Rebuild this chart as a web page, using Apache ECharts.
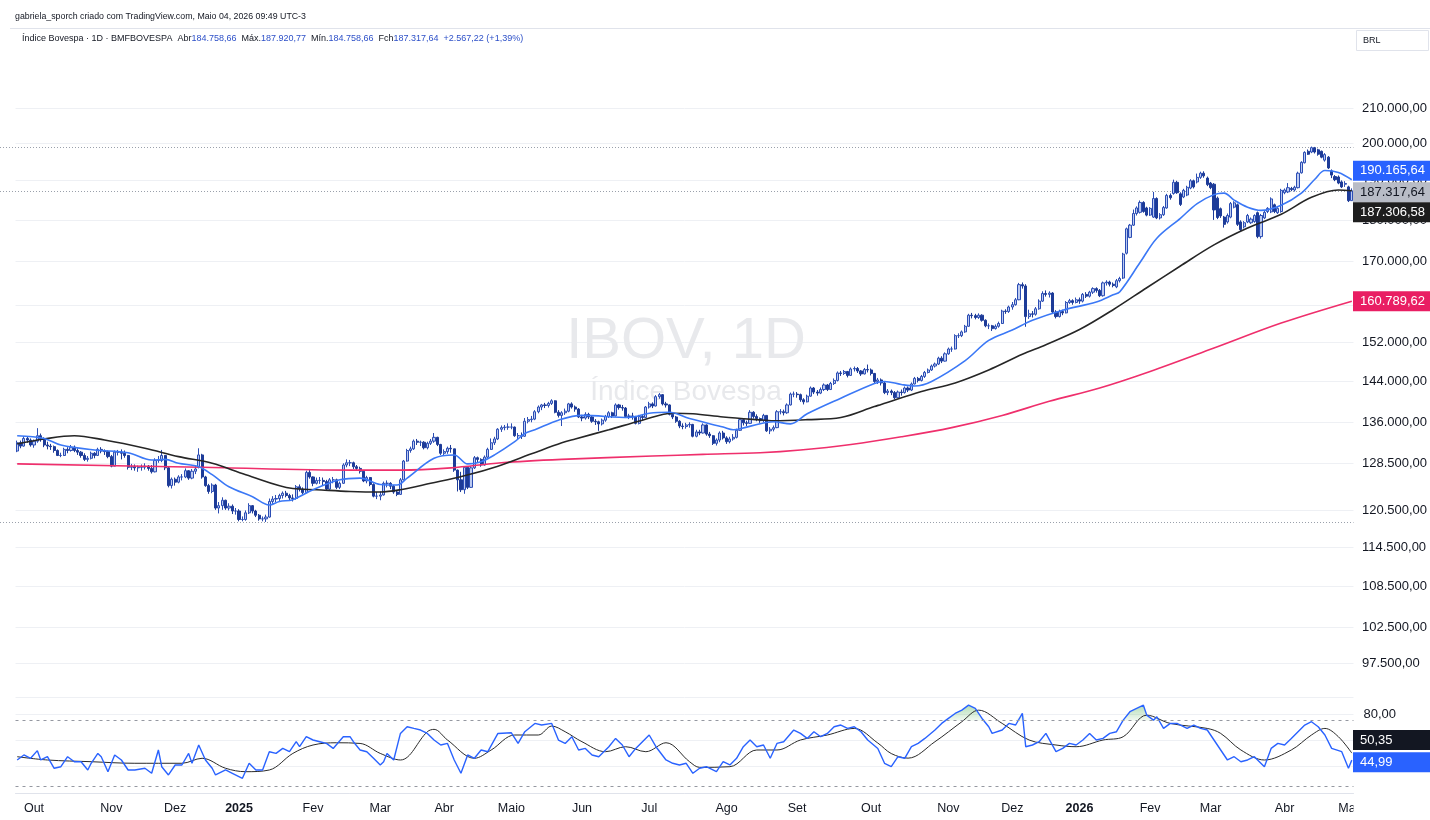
<!DOCTYPE html>
<html><head><meta charset="utf-8">
<script src="https://cdn.jsdelivr.net/npm/echarts@6/dist/echarts.min.js"></script>
<style>html,body{margin:0;padding:0;background:#fff}#c{width:1430px;height:820px}</style>
</head><body><div id="c"></div>
<script>
// ---------- DATA (prices in thousands of points) ----------
const monthLabels = ['Set','Out','Nov','Dez','2025','Fev','Mar','Abr','Maio','Jun','Jul','Ago','Set','Out','Nov','Dez','2026','Fev','Mar','Abr','Maio'];
const monthBars   = [5,23,19,19,22,20,19,20,21,20,23,21,22,23,19,20,21,18,22,20,1];

// [open, close, low, high]
const candles = [
[130.7,132.2,130.5,132.6],[132.2,131.6,131.2,132.6],[131.6,133.0,131.5,133.4],[133.0,132.7,132.2,133.4],[132.7,131.8,131.5,133.0],
[131.8,132.5,131.3,132.8],[132.5,133.5,132.2,134.9],[133.5,133.0,132.4,133.9],[133.0,131.8,131.4,133.2],[131.8,131.6,131.0,132.4],
[131.6,131.5,130.9,132.0],[131.5,130.8,130.4,131.7],[130.8,129.9,129.8,131.0],[129.9,129.9,129.6,130.4],[129.9,131.0,129.8,131.3],
[131.0,130.8,130.3,131.4],[130.8,131.4,130.6,131.8],[131.4,130.8,130.5,131.7],[130.8,130.5,130.0,131.2],[130.5,129.9,129.5,130.7],
[129.9,129.2,128.9,130.3],[129.2,129.4,128.8,129.8],[129.4,130.3,129.2,130.6],[130.3,129.9,129.4,130.5],[129.9,131.0,129.8,131.3],
[131.0,130.7,130.3,131.4],[130.7,130.6,130.0,131.0],[130.6,129.7,129.4,130.8],
[129.7,128.0,127.8,130.0],[128.0,130.5,128.0,130.8],[130.5,130.5,129.9,130.9],[130.5,130.3,129.2,131.0],[130.3,129.9,129.5,130.8],
[129.9,127.8,127.4,130.0],[127.8,127.9,127.3,128.4],[127.9,127.7,127.2,128.3],[127.7,127.8,127.0,128.1],[127.8,127.8,127.2,128.3],
[127.8,128.0,127.4,128.5],[128.0,127.6,127.2,128.2],[127.6,127.0,126.7,128.2],[127.0,129.0,126.9,129.4],[129.0,129.0,128.6,129.8],
[129.0,129.9,128.7,130.9],[129.9,127.7,127.3,130.0],[127.7,124.6,124.3,128.0],[124.6,125.7,124.1,126.0],
[125.7,125.2,124.6,126.0],[125.2,126.1,125.0,126.4],[126.1,126.1,125.5,126.6],[126.1,127.2,125.9,127.6],[127.2,125.9,125.6,127.3],
[125.9,127.1,125.7,127.5],[127.1,127.5,126.6,128.0],[127.8,130.0,127.6,131.2],[130.0,126.1,125.8,130.2],[126.1,124.6,124.4,126.3],
[124.6,123.6,123.2,124.9],[123.6,124.7,123.3,125.0],[124.7,120.8,120.5,124.9],[120.8,121.2,119.9,121.8],[121.2,122.1,120.5,122.6],
[122.1,120.8,120.5,122.2],[120.8,121.1,120.4,121.6],[121.1,120.3,119.8,121.4],[120.3,120.3,119.7,120.8],
[120.3,118.9,118.6,120.6],[118.9,118.9,118.6,119.4],[118.9,120.0,118.7,120.4],[120.0,121.2,119.8,121.6],[121.2,120.3,119.9,121.3],
[120.3,119.6,119.3,120.5],[119.6,119.0,118.7,119.8],[119.0,119.0,118.6,119.4],[119.0,119.3,118.5,119.7],[119.3,121.9,119.2,122.4],
[121.9,122.3,121.5,122.8],[122.3,122.4,121.8,123.0],[122.4,122.9,122.0,123.2],[122.9,123.3,122.4,123.6],[123.3,122.9,122.6,123.7],
[122.9,122.5,122.0,123.2],[122.5,122.4,121.9,123.1],[122.4,124.4,122.2,124.7],[124.4,124.0,123.6,124.8],[124.0,123.4,123.1,124.3],
[123.4,126.9,123.3,127.2],[126.9,126.1,125.8,127.5],
[126.1,125.0,124.5,126.2],[125.0,125.5,124.8,126.0],[125.5,125.5,124.9,126.1],[125.5,125.3,124.7,126.0],[125.3,124.0,123.8,125.6],
[124.0,125.6,123.9,125.9],[125.6,125.6,125.0,126.1],[125.6,124.3,124.0,125.8],[124.3,125.0,124.0,125.3],[125.0,128.2,124.9,128.5],
[128.2,128.6,127.8,129.2],[128.6,128.6,128.0,129.1],[128.6,127.9,127.5,128.8],[127.9,127.6,127.2,128.2],[127.6,127.1,126.7,127.9],
[127.1,125.4,125.2,127.2],[125.4,126.0,125.0,126.3],[126.0,124.8,124.5,126.1],[124.8,122.8,122.6,125.0],[122.8,122.8,122.3,123.5],
[122.8,123.0,122.1,123.6],[123.0,125.0,122.9,125.3],[125.0,125.0,124.3,125.5],[125.0,124.5,124.0,125.2],[124.5,123.5,123.2,124.7],
[123.5,123.1,122.8,123.8],[123.1,125.6,123.0,125.9],[125.6,128.9,125.5,129.1],[128.9,130.8,128.8,131.1],[130.8,131.1,130.4,131.5],
[131.1,132.5,130.9,132.8],[132.5,132.3,131.8,132.9],[132.3,132.3,131.6,132.6],[132.3,131.3,131.0,132.5],[131.3,132.1,131.0,132.4],
[132.1,132.5,131.8,132.9],[132.5,133.2,132.2,134.0],[133.2,131.9,131.6,133.3],[131.9,130.3,130.0,132.0],
[130.3,130.6,129.8,131.0],[130.6,131.2,130.2,131.5],[131.2,131.1,130.4,131.8],[131.1,127.3,127.0,131.1],[127.3,125.6,123.6,127.4],
[125.6,123.9,123.5,127.0],[123.9,127.8,123.2,128.0],[127.8,124.3,124.0,127.8],[124.3,127.7,124.2,128.0],[127.7,129.5,127.5,129.8],
[129.5,129.2,128.6,129.7],[129.2,128.2,127.9,129.4],[128.2,129.6,128.1,129.9],[129.6,131.0,129.4,131.3],[131.0,132.2,130.9,133.0],
[132.2,132.9,131.8,133.3],[132.9,134.7,132.7,134.9],[134.7,135.0,134.2,135.4],[135.0,135.1,134.5,135.5],[135.1,135.1,134.6,135.8],
[135.1,135.1,134.7,135.8],[135.1,133.5,133.3,135.2],[133.5,133.5,132.9,134.0],[133.5,133.4,132.9,134.1],[133.4,136.2,133.3,136.8],
[136.2,136.5,135.8,137.0],[136.5,136.6,136.0,137.2],[136.6,138.0,136.4,138.3],[138.0,138.9,137.7,139.2],[138.9,139.3,138.3,139.5],
[139.3,139.2,138.7,139.7],[139.2,139.6,138.8,139.9],[139.6,140.1,139.3,140.4],[140.1,137.9,137.7,140.2],[137.9,137.3,136.9,138.3],
[137.3,137.8,135.3,138.1],[137.8,138.1,137.4,138.6],[138.1,139.5,137.9,139.7],[139.5,138.9,138.6,139.8],[138.9,138.5,138.0,139.2],
[138.5,137.0,136.8,138.7],
[137.0,136.8,136.2,137.4],[136.8,137.5,136.5,137.9],[137.5,137.0,136.6,137.8],[137.0,136.2,135.9,137.3],[136.2,136.1,135.5,136.6],
[136.1,135.7,134.4,136.3],[135.7,136.4,135.4,136.7],[136.4,137.1,136.1,137.4],[137.1,137.8,136.8,138.1],[137.8,137.2,136.8,138.0],
[137.2,139.3,137.1,139.6],[139.3,138.8,138.4,139.5],[138.8,138.7,138.2,139.3],[138.7,137.1,136.8,138.9],[137.1,137.2,136.6,137.6],
[137.2,137.1,136.5,137.8],[137.1,135.8,135.6,137.2],[135.8,137.1,135.6,137.4],[137.1,136.9,136.4,137.4],[136.9,138.9,136.8,139.1],
[138.9,139.5,138.6,139.9],[139.5,139.1,138.7,139.8],[139.1,140.9,139.0,141.2],[140.9,141.3,140.5,141.6],[141.3,139.5,139.2,141.4],
[139.5,139.3,138.8,139.9],[139.3,137.5,137.3,139.4],[137.5,137.0,136.6,137.8],[137.0,136.2,135.9,137.2],[136.2,135.3,134.9,136.4],
[135.3,135.2,134.7,135.8],[135.2,135.5,134.8,135.9],[135.5,135.6,135.0,136.0],[135.6,133.4,133.2,135.7],[133.4,134.2,133.2,134.6],
[134.2,134.0,133.6,134.6],[134.0,135.5,133.9,135.8],[135.5,133.8,133.5,135.6],[133.8,133.5,133.1,134.2],[133.5,132.1,131.8,133.6],
[132.1,132.7,131.7,133.0],[132.7,134.0,132.3,134.3],[134.0,133.1,132.8,134.4],
[133.1,132.4,132.0,133.4],[132.4,132.9,132.1,133.3],[132.9,133.2,132.6,133.8],[133.2,134.5,133.0,134.8],[134.5,136.5,134.4,136.8],
[136.5,135.9,135.4,136.7],[135.9,135.8,135.3,136.3],[135.8,137.9,135.7,138.3],[137.9,137.1,136.7,138.1],[137.1,136.7,136.2,137.5],
[136.7,136.3,135.9,136.9],[136.3,137.3,136.0,137.6],[137.3,134.4,134.2,137.3],[134.4,134.7,133.8,135.1],[134.7,135.0,134.3,135.4],
[135.0,138.0,134.9,138.3],[138.0,138.0,137.5,138.5],[138.0,137.8,137.3,138.4],[137.8,139.3,137.6,139.6],[139.3,141.4,139.2,141.7],
[141.4,141.4,140.8,141.9],
[141.4,141.3,140.7,141.8],[141.3,140.3,139.9,141.5],[140.3,139.9,139.4,140.6],[139.9,141.0,139.8,141.3],[141.0,142.6,140.9,142.9],
[142.6,141.8,141.4,142.8],[141.8,141.6,141.1,142.2],[141.6,142.3,141.4,142.7],[142.3,143.2,142.0,143.5],[143.2,142.3,142.0,143.4],
[142.3,143.5,142.2,143.8],[143.5,144.1,143.2,144.5],[144.1,145.6,143.9,145.9],[145.6,145.5,145.0,146.0],[145.5,145.9,145.2,146.2],
[145.9,145.1,144.7,146.0],[145.1,146.4,145.0,146.7],[146.4,146.5,145.9,146.9],[146.5,146.0,145.6,146.8],[146.0,145.4,145.0,146.2],
[145.4,146.3,145.3,146.6],[146.3,146.2,145.7,147.3],
[146.2,145.5,145.1,146.5],[145.5,143.9,143.6,145.6],[143.9,144.2,143.4,144.6],[144.2,143.6,143.1,144.5],[143.6,141.7,141.4,143.8],
[141.7,142.0,141.2,142.4],[142.0,141.7,141.2,142.3],[141.7,140.7,140.4,142.0],[140.7,141.8,140.6,142.1],[141.8,141.7,141.1,142.3],
[141.7,142.6,141.5,142.9],[142.6,142.2,141.8,142.9],[142.2,143.4,142.0,143.7],[143.4,144.5,143.3,144.8],[144.5,144.1,143.7,144.8],
[144.1,144.9,143.9,145.2],[144.9,145.7,144.6,146.0],[145.7,146.2,145.5,146.5],[146.2,147.0,146.0,147.3],[147.0,147.4,146.7,147.7],
[147.4,148.6,147.2,148.9],[148.6,148.0,147.6,149.0],[148.0,149.5,147.9,149.8],
[149.5,150.5,149.3,150.8],[150.5,150.5,149.9,151.0],[150.5,153.3,150.4,153.6],[153.3,153.3,152.8,153.8],[153.3,154.1,153.0,154.4],
[154.1,155.3,153.9,155.6],[155.3,157.7,155.2,158.0],[157.7,157.6,157.0,158.2],[157.6,157.2,156.8,158.0],[157.2,157.7,156.9,158.1],
[157.7,156.6,156.3,157.9],[156.6,155.4,155.1,156.8],[155.4,155.4,154.7,155.9],[155.4,154.8,154.3,155.6],[154.8,155.3,154.6,155.7],
[155.3,155.9,155.0,156.3],[155.9,158.6,155.8,158.9],[158.6,158.5,158.0,159.0],[158.5,159.5,158.2,159.8],
[159.5,160.0,158.9,160.6],[160.0,161.1,159.8,161.5],[161.1,164.5,161.0,164.9],[164.5,164.2,163.6,165.0],[164.2,157.4,155.2,164.6],
[157.4,158.0,156.9,158.9],[158.0,157.9,157.2,158.6],[157.9,159.1,157.6,159.5],[159.1,160.8,158.9,161.2],[160.8,162.5,160.6,163.0],
[162.5,162.3,161.8,163.2],[162.3,162.6,161.6,163.0],[162.6,158.4,158.1,162.8],[158.4,157.4,157.0,158.8],[157.4,158.5,157.2,158.9],
[158.5,158.2,157.7,158.9],[158.2,160.5,158.1,160.8],[160.5,160.9,160.2,161.3],[160.9,160.5,160.0,161.2],[160.5,161.1,160.3,161.6],
[161.1,160.8,160.2,161.6],[160.8,162.3,160.5,162.6],[162.3,161.9,161.5,162.8],[161.9,162.8,161.6,163.1],[162.8,163.6,162.4,163.9],
[163.6,163.2,162.7,163.9],[163.2,162.0,161.7,163.5],[162.0,164.9,161.8,165.2],[164.9,165.1,164.3,165.5],[165.1,164.6,164.1,165.4],
[164.6,164.3,163.9,165.0],[164.0,165.4,163.7,165.8],[165.4,165.9,165.0,166.3],[166.0,171.6,165.8,171.9],[171.8,177.7,171.5,178.0],
[175.6,178.6,175.4,178.9],[178.6,181.5,178.4,182.5],[181.5,182.9,181.0,183.3],[181.8,184.3,181.5,184.8],[184.3,182.0,181.7,184.6],
[182.9,181.1,180.8,183.2],
[181.1,182.8,180.9,183.1],[180.6,185.3,180.4,187.0],[185.3,180.4,180.1,185.6],[180.4,181.2,180.0,181.6],[181.2,183.0,180.9,183.4],
[182.9,186.1,182.7,186.5],[186.1,185.5,185.0,186.6],[186.6,189.5,186.3,190.2],[189.5,186.8,186.5,189.9],[186.5,183.8,183.4,186.9],
[185.7,187.4,185.4,187.8],[186.2,188.2,185.9,188.6],[188.0,189.9,187.7,190.3],[189.9,188.3,187.9,190.2],[189.6,190.8,189.2,191.8],
[190.8,191.9,190.4,192.3],[191.9,191.2,190.7,192.4],[190.6,188.9,188.5,191.0],
[189.3,188.1,187.7,189.6],[189.0,182.4,179.9,189.3],[185.4,180.5,180.1,185.8],[182.7,180.9,180.4,183.0],[180.6,178.8,178.0,180.9],
[179.4,181.0,179.0,181.5],[180.6,184.0,180.3,184.4],[183.1,184.2,182.8,184.6],[183.7,178.8,178.4,184.0],[179.4,177.5,177.1,179.8],
[178.2,179.2,177.8,179.6],[179.4,181.0,179.1,181.4],[179.2,180.1,178.9,180.5],[179.5,181.0,179.2,181.3],[181.7,175.8,175.4,182.0],
[175.8,181.0,175.3,181.4],[180.4,181.8,180.1,182.2],[182.0,182.8,181.6,183.1],[181.9,185.2,181.6,185.6],[183.7,182.0,181.6,184.0],
[181.7,182.8,181.4,183.1],[182.0,187.4,181.7,187.8],
[186.8,187.5,186.4,187.9],[187.0,188.1,186.7,189.3],[187.9,187.6,187.2,188.3],[187.5,188.2,187.1,188.6],[188.1,191.9,187.9,192.3],
[192.0,194.8,191.8,195.1],[194.7,197.5,194.5,197.8],[197.8,197.0,196.8,198.3],[197.6,198.8,197.3,199.1],[198.8,197.6,197.2,199.0],
[198.2,197.0,196.6,198.5],[197.8,196.2,195.9,198.0],[195.4,196.9,195.0,197.3],[196.2,193.3,193.0,196.5],[192.5,191.4,190.6,192.9],
[191.0,190.2,189.8,191.4],[190.9,189.3,189.0,191.3],[189.6,188.3,188.0,190.0],[189.0,189.2,188.3,189.8],[188.3,184.75042,184.4,188.6],
[184.75866,187.31764,184.75866,187.92077]
];

// moving averages, [bar index, value]
const maFast = [[0,133.5],[8,133.0],[13,131.8],[23,130.9],[33,130.4],[40,129.1],[44,129.2],[48,128.5],[54,127.9],[58,126.5],[63,124.4],[70,122.7],[75,121.3],[78,121.9],[82,122.2],[88,123.9],[96,125.6],[102,125.9],[108,124.8],[113,124.7],[116,125.9],[124,129.4],[130,130.0],[134,128.4],[138,128.8],[142,130.0],[148,132.4],[151,133.9],[154,134.6],[161,136.4],[168,137.3],[182,136.9],[188,137.7],[194,137.9],[200,136.7],[210,135.1],[213,134.6],[217,135.1],[225,136.1],[230,135.7],[235,137.6],[245,140.6],[255,143.5],[258,143.9],[263,143.3],[267,143.0],[272,143.9],[282,148.1],[289,152.3],[296,154.5],[302,156.6],[311,158.8],[321,160.6],[326,162.2],[328,162.9],[334,169.6],[339,175.4],[346,180.3],[351,184.0],[356,186.3],[359,186.7],[362,184.9],[366,183.1],[370,182.3],[376,183.6],[382,186.7],[386,190.3],[389,192.6],[393,192.1],[397,190.16564]];
const maMid = [[0,132.0],[8,132.9],[17,133.5],[26,132.7],[38,131.2],[48,129.7],[58,128.5],[68,126.5],[82,124.1],[89,123.9],[99,123.6],[108,123.5],[114,123.9],[123,125.0],[133,126.3],[143,128.0],[153,130.2],[162,132.2],[166,132.9],[176,134.6],[186,136.4],[195,137.7],[201,137.6],[210,137.0],[220,136.5],[225,136.3],[235,136.5],[245,136.9],[255,139.0],[257,139.4],[269,141.9],[279,143.6],[289,146.2],[299,149.4],[306,151.4],[316,154.6],[326,158.9],[336,163.8],[346,168.8],[356,173.8],[366,177.9],[376,181.3],[385,185.6],[393,187.5],[397,187.30658]];
const maSlow = [[0,128.4],[55,127.8],[100,127.3],[114,127.3],[129,127.7],[144,128.6],[162,129.2],[189,129.8],[204,130.1],[221,130.4],[233,130.9],[248,131.9],[263,133.3],[278,135.0],[293,137.3],[307,140.0],[322,142.6],[337,145.9],[356,150.7],[376,156.0],[397,160.78962]];

// RSI and its moving average, [bar index, value]
const rsi = [[0,45.1],[2,48.9],[4,46.4],[6,52.2],[7,45.1],[9,47.6],[11,38.8],[13,40.0],[15,47.6],[17,43.8],[19,43.8],[21,37.5],[22,42.6],[24,50.1],[25,47.6],[27,36.2],[29,48.9],[31,45.1],[33,37.5],[35,37.5],[38,38.8],[40,35.0],[42,52.7],[43,40.0],[45,33.7],[47,41.3],[49,41.3],[51,50.1],[52,42.6],[54,56.5],[56,45.1],[58,38.8],[59,33.7],[62,37.5],[64,35.0],[67,31.2],[69,42.6],[71,37.5],[73,37.5],[75,51.4],[77,50.1],[79,53.9],[81,51.4],[83,59.0],[84,55.2],[86,62.8],[88,60.3],[90,59.0],[92,57.7],[94,53.9],[97,62.8],[99,62.8],[100,59.0],[102,52.7],[104,51.4],[106,46.4],[108,41.3],[109,43.8],[110,50.1],[112,45.1],[114,65.3],[116,70.4],[118,69.1],[120,67.9],[122,65.3],[124,60.3],[126,56.5],[128,57.7],[130,45.1],[132,35.0],[134,48.9],[136,46.4],[138,52.7],[140,51.4],[143,65.3],[147,65.8],[149,57.7],[151,66.6],[154,72.9],[156,71.7],[159,72.9],[161,60.3],[163,57.7],[165,62.8],[167,52.7],[169,53.9],[171,48.9],[173,47.6],[176,55.2],[178,61.5],[180,56.5],[182,47.6],[184,53.9],[186,59.0],[188,64.1],[190,55.2],[193,45.1],[195,42.6],[197,41.3],[199,42.6],[201,35.0],[203,38.8],
[205,40.0],[208,36.2],[210,43.8],[212,41.3],[214,46.4],[216,55.2],[218,60.3],[220,55.2],[222,56.5],[224,46.4],[226,57.7],[228,59.0],[231,67.9],[233,65.3],[235,61.5],[237,66.6],[239,62.8],[241,65.3],[243,70.4],[245,71.7],[247,69.1],[249,70.4],[251,66.6],[253,60.3],[256,53.9],[258,42.6],[260,40.0],[262,47.6],[264,46.4],[266,55.2],[268,57.7],[270,61.5],[273,67.9],[275,72.9],[277,76.7],[279,80.5],[281,83.0],[283,86.8],[285,84.3],[287,76.7],[289,70.4],[290,65.3],[293,67.9],[295,72.9],[297,71.7],[299,80.5],[300,55.2],[302,56.5],[304,59.0],[306,65.3],[309,51.4],[311,53.9],[313,57.7],[315,56.5],[317,60.3],[319,65.3],[321,60.3],[323,61.5],[325,65.3],[327,66.6],[329,75.4],[331,81.8],[333,84.3],[335,86.8],[336,79.2],[338,75.4],[339,78.0],[341,69.1],[343,72.9],[345,72.9],[348,69.1],[350,71.7],[352,69.1],[354,67.9],[356,60.3],[358,52.7],[360,45.1],[362,47.6],[364,43.8],[366,45.1],[368,47.6],[371,40.0],[373,53.9],[375,57.7],[377,56.5],[379,61.5],[381,66.6],[383,71.7],[385,74.2],[387,70.4],[389,64.1],[391,53.9],[394,51.4],[396,38.8],[397,44.99]];
const rsiMa = [[0,47.6],[9,45.1],[22,43.8],[35,42.6],[49,42.6],[55,46.4],[62,38.8],[68,36.2],[75,37.5],[82,50.1],[88,56.5],[95,58.2],[102,57.7],[108,50.1],[114,45.1],[122,66.6],[124,68.4],[128,60.3],[136,46.4],[141,52.7],[148,64.1],[155,64.1],[159,70.9],[163,66.6],[168,59.0],[175,51.4],[181,55.2],[187,51.4],[193,58.2],[200,43.8],[203,39.5],[212,40.0],[220,52.7],[226,52.7],[233,60.3],[241,64.1],[249,69.1],[256,58.0],[260,50.0],[265,46.5],[273,59.0],[281,74.2],[286,83.0],[293,72.9],[301,60.3],[309,56.5],[315,55.2],[323,60.3],[329,62.8],[336,79.2],[343,72.9],[354,69.1],[358,65.3],[364,52.7],[371,45.1],[379,52.7],[385,64.1],[389,69.1],[393,62.8],[397,50.35]];

// axis / reference values
const priceTicks = [97.5,102.5,108.5,114.5,120.5,128.5,136,144,152,160,170,180,190,200,210];
const rsiBands = [75, 25];
const rangeLines = [199.1, 118.5];
const lastClose = 187.31764;
const headerText = 'gabriela_sporch criado com TradingView.com, Maio 04, 2026 09:49 UTC-3';
const legendParts = [['Índice Bovespa · 1D · BMFBOVESPA  Abr','184.758,66'],['  Máx.','187.920,77'],['  Mín.','184.758,66'],['  Fch','187.317,64'],['  ','+2.567,22 (+1,39%)']];

// ---------- BUILD ----------
const categories = [];
const monthStart = {};
monthLabels.forEach((m, mi) => {
  for (let k = 0; k < monthBars[mi]; k++) {
    if (k === 0 && mi > 0) monthStart[categories.length] = m;
    categories.push(m + '#' + mi + '#' + k);
  }
});

function fmtBR(v, dec) {
  const s = v.toFixed(dec);
  const parts = s.split('.');
  const intp = parts[0].replace(/\B(?=(\d{3})+(?!\d))/g, '.');
  return parts[1] !== undefined ? intp + ',' + parts[1] : intp;
}
const FONT = 'Liberation Sans, Arial, sans-serif';
const C_BLUE = '#2962ff', C_BLACK = '#262626', C_PINK = '#ef2f6c';

const option = {
  animation: false,
  backgroundColor: '#ffffff',
  grid: [
    {left: 15.5, right: 76.5, top: 28, height: 667},
    {left: 15.5, right: 76.5, top: 697, height: 96}
  ],
  xAxis: [
    {type: 'category', gridIndex: 0, data: categories, boundaryGap: true,
     axisLine: {show: false}, axisTick: {show: false},
     axisLabel: {show: false}, splitLine: {show: false}},
    {type: 'category', gridIndex: 1, data: categories, boundaryGap: true,
     axisLine: {show: true, onZero: false, lineStyle: {color: '#e0e3eb'}}, axisTick: {show: false},
     splitLine: {show: false},
     axisLabel: {
       interval: (idx) => monthStart[idx] !== undefined,
       formatter: (val, idx) => {
         const m = val.split('#')[0];
         return /^\d{4}$/.test(m) ? '{y|' + m + '}' : m;
       },
       color: '#131722', fontSize: 12.5, fontFamily: FONT, margin: 9,
       rich: {y: {fontWeight: 'bold', fontSize: 12.5, color: '#131722', fontFamily: FONT}}
     }}
  ],
  yAxis: [
    {type: 'log', logBase: 10, gridIndex: 0, position: 'right', min: 93.286, max: 234.557,
     axisLine: {show: false}, axisTick: {show: false}, axisLabel: {show: false}, splitLine: {show: false}},
    {type: 'value', gridIndex: 1, position: 'right', min: 20, max: 93, interval: 20,
     axisLine: {show: false}, axisTick: {show: false},
     splitLine: {show: true, lineStyle: {color: '#eef0f4', width: 1}},
     axisLabel: {formatter: (v) => (v === 80 ? fmtBR(v, 2) : ''), margin: 10, color: '#131722', fontSize: 13, fontFamily: FONT}}
  ],
  series: [
    {type: 'candlestick', name: 'IBOV', xAxisIndex: 0, yAxisIndex: 0, data: candles, barWidth: '78%', z: 2,
     itemStyle: {color: '#bccaf0', color0: '#1d3b98', borderColor: '#2b4db4', borderColor0: '#1d3b98', borderWidth: 1}},
    {type: 'line', name: 'MA200', xAxisIndex: 0, yAxisIndex: 0, data: maSlow, smooth: 0.35, symbol: 'none', z: 3,
     lineStyle: {color: C_PINK, width: 1.6}},
    {type: 'line', name: 'MA50', xAxisIndex: 0, yAxisIndex: 0, data: maMid, smooth: 0.35, symbol: 'none', z: 3,
     lineStyle: {color: C_BLACK, width: 1.6}},
    {type: 'line', name: 'MA20', xAxisIndex: 0, yAxisIndex: 0, data: maFast, smooth: 0.35, symbol: 'none', z: 4,
     lineStyle: {color: '#3b78f6', width: 1.6}},
    {type: 'line', name: 'OB', xAxisIndex: 1, yAxisIndex: 1, data: rsi.map(p => [p[0], Math.max(p[1], rsiBands[0])]),
     symbol: 'none', z: 2, lineStyle: {width: 0, opacity: 0},
     areaStyle: {origin: rsiBands[0], color: new echarts.graphic.LinearGradient(0, 0, 0, 1, [
       {offset: 0, color: 'rgba(76,175,80,0.6)'}, {offset: 1, color: 'rgba(76,175,80,0.1)'}])}},
    {type: 'line', name: 'RSI', xAxisIndex: 1, yAxisIndex: 1, data: rsi, symbol: 'none', z: 4,
     lineStyle: {color: C_BLUE, width: 1.4},
     markLine: {silent: true, symbol: 'none', animation: false, label: {show: false},
       lineStyle: {color: '#9598a1', type: [3, 4], width: 1},
       data: rsiBands.map(b => ({yAxis: b}))}},
    {type: 'line', name: 'RSI MA', xAxisIndex: 1, yAxisIndex: 1, data: rsiMa, smooth: 0.35, symbol: 'none', z: 3,
     lineStyle: {color: '#2a2a2a', width: 1}}
  ]
};

const chart = echarts.init(document.getElementById('c'), null, {renderer: 'canvas'});
chart.setOption(option);

const py = v => chart.convertToPixel({yAxisIndex: 0}, v);
const ry = v => chart.convertToPixel({yAxisIndex: 1}, v);
const X0 = 15.5, X1 = 1353.5;
const g = [];

// price grid lines + labels
priceTicks.forEach(v => {
  const y = Math.round(py(v)) + 0.5;
  g.push({type: 'line', z: 0, silent: true, shape: {x1: X0, y1: y, x2: X1, y2: y}, style: {stroke: '#eef0f4', lineWidth: 1}});
  g.push({type: 'text', z: 50, silent: true, x: 1362, y: y, style: {text: fmtBR(v * 1000, 2), fill: '#131722', font: '13px ' + FONT, textVerticalAlign: 'middle'}});
});
// dotted range lines and last-price line
rangeLines.concat([lastClose]).forEach(v => {
  const y = Math.round(py(v)) + 0.5;
  g.push({type: 'line', z: 1, silent: true, shape: {x1: 0, y1: y, x2: X1, y2: y}, style: {stroke: '#9aa0ab', lineWidth: 1, lineDash: [1, 2]}});
});

// value boxes on price scale
function box(y, text, bg, fg) {
  g.push({type: 'rect', z: 60, silent: true, shape: {x: 1353, y: y - 10, width: 77, height: 20}, style: {fill: bg}});
  g.push({type: 'text', z: 61, silent: true, x: 1360, y: y, style: {text: text, fill: fg, font: '13px ' + FONT, textVerticalAlign: 'middle'}});
}
const lastFast = maFast[maFast.length - 1][1], lastMid = maMid[maMid.length - 1][1], lastSlow = maSlow[maSlow.length - 1][1];
const lastRsi = rsi[rsi.length - 1][1], lastRsiMa = rsiMa[rsiMa.length - 1][1];
box(py(lastFast) - 9, fmtBR(lastFast * 1000, 2), C_BLUE, '#ffffff');
box(py(lastClose) + 1.5, fmtBR(lastClose * 1000, 2), '#b8bcc6', '#131722');
box(py(lastMid) + 21.5, fmtBR(lastMid * 1000, 2), '#1e1e1e', '#ffffff');
box(py(lastSlow), fmtBR(lastSlow * 1000, 2), '#e91e63', '#ffffff');
box(ry(lastRsiMa) - 13, fmtBR(lastRsiMa, 2), '#131722', '#ffffff');
box(ry(lastRsi) + 2, fmtBR(lastRsi, 2), C_BLUE, '#ffffff');

// cover the part of the time-axis label running under the price scale
g.push({type: 'rect', z: 70, silent: true, shape: {x: 1353.5, y: 796, width: 77, height: 24}, style: {fill: '#ffffff'}});

// frame
g.push({type: 'line', z: 5, silent: true, shape: {x1: 10, y1: 28.5, x2: 1430, y2: 28.5}, style: {stroke: '#e0e3eb', lineWidth: 1}});

// watermark
g.push({type: 'text', z: 0, silent: true, x: 686, y: 342, style: {text: 'IBOV, 1D', fill: '#e8e9ec', font: '58px ' + FONT, textAlign: 'center', textVerticalAlign: 'middle'}});
g.push({type: 'text', z: 0, silent: true, x: 686, y: 392, style: {text: 'Índice Bovespa', fill: '#e8e9ec', font: '28px ' + FONT, textAlign: 'center', textVerticalAlign: 'middle'}});

// header
g.push({type: 'text', z: 80, silent: true, x: 15, y: 17, style: {text: headerText, fill: '#131722', font: '8.8px ' + FONT, textVerticalAlign: 'middle'}});
const rich = {k: {fill: '#131722', font: '9px ' + FONT}, v: {fill: '#2d50c8', font: '9px ' + FONT}};
const legendText = legendParts.map(p => '{k|' + p[0] + '}{v|' + p[1] + '}').join('');
g.push({type: 'text', z: 80, silent: true, x: 22, y: 39, style: {text: legendText, rich: rich, textVerticalAlign: 'middle'}});
// currency box
g.push({type: 'rect', z: 80, silent: true, shape: {x: 1356.5, y: 30.5, width: 72, height: 20}, style: {fill: '#ffffff', stroke: '#e0e3eb', lineWidth: 1}});
g.push({type: 'text', z: 81, silent: true, x: 1363, y: 41, style: {text: 'BRL', fill: '#131722', font: '9px ' + FONT, textVerticalAlign: 'middle'}});

chart.setOption({graphic: g});
</script></body></html>
